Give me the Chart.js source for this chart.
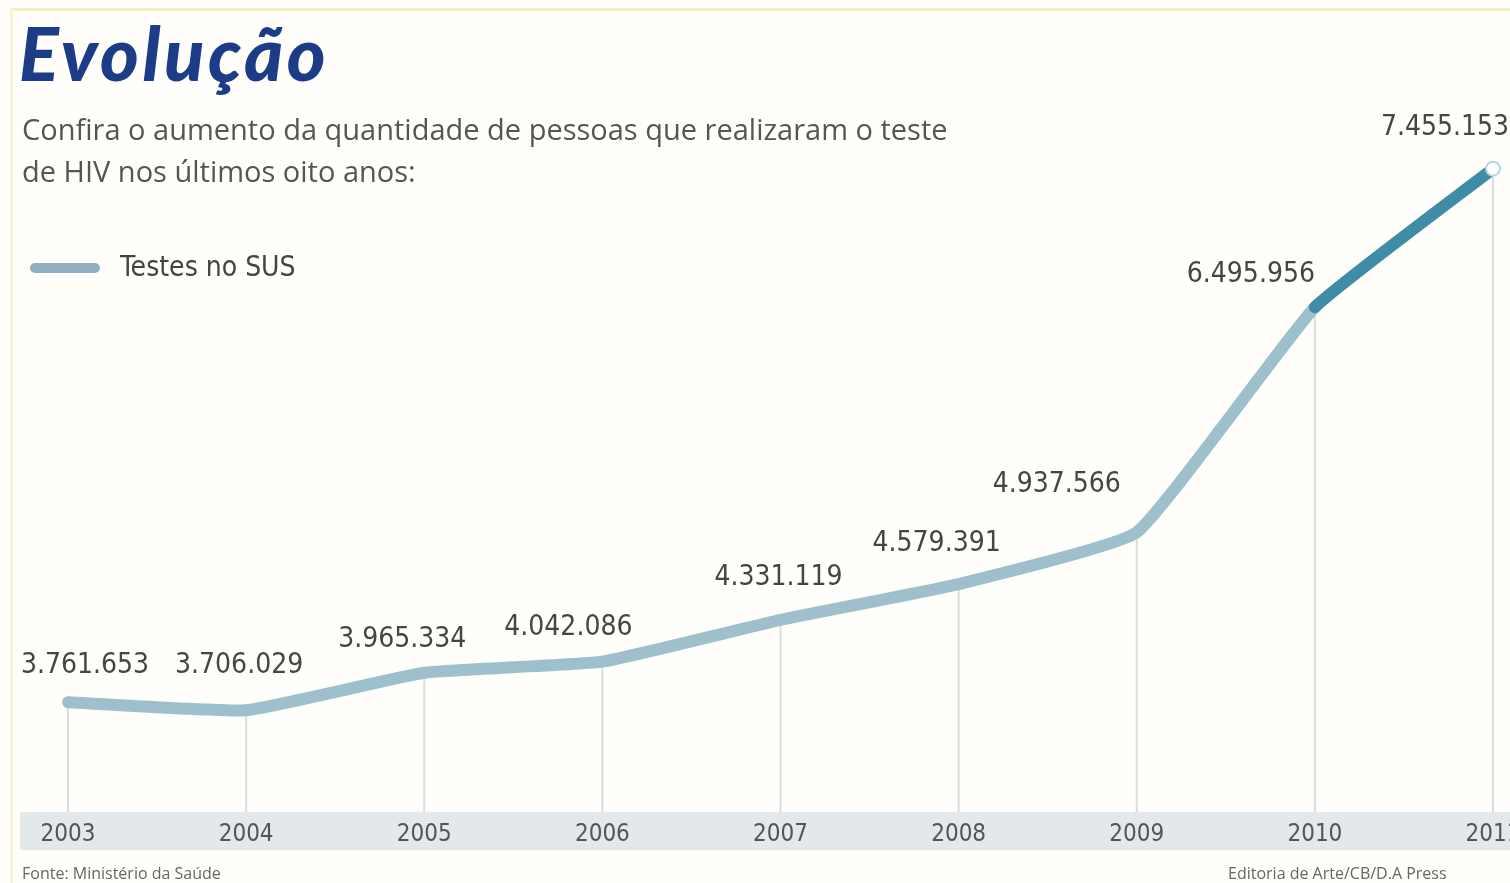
<!DOCTYPE html>
<html>
<head>
<meta charset="utf-8">
<title>Evolução</title>
<script src="https://cdn.jsdelivr.net/npm/chart.js@4"></script>
<style>
  body { margin: 0; background: #fffefa; }
  #wrap { position: relative; width: 1510px; height: 883px; overflow: hidden; }
  #wrap:before { content: ''; position: absolute; left: 10px; top: 8px; right: 0; height: 3px; background: #f2eec4; }
  #wrap:after { content: ''; position: absolute; left: 10px; top: 8px; bottom: 0; width: 3px; background: #f6f2d6; }
  canvas { position: absolute; left: 0; top: 0; }
  .title { position: absolute; left: 19px; top: 8px; font: italic 900 74px 'Lato', sans-serif; color: #1d3c88; letter-spacing: 3.5px; }
  .sub { position: absolute; left: 22px; top: 108px; font: 29px 'Open Sans', sans-serif; color: #555; line-height: 42px; }
  .legend { position: absolute; left: 30px; top: 250px; font: 28px 'Liberation Sans Narrow', 'DejaVu Sans Condensed', sans-serif; color: #444; }
  .legend i { display: inline-block; width: 70px; height: 10px; border-radius: 5px; background: #8fb1bd; vertical-align: middle; margin-right: 20px; }
  .src { position: absolute; top: 862px; font: 16px 'Open Sans', sans-serif; color: #666; white-space: nowrap; }
</style>
</head>
<body>
<div id="wrap">
  <canvas id="chart" width="1510" height="883"></canvas>
  <div class="title">Evolução</div>
  <div class="sub">Confira o aumento da quantidade de pessoas que realizaram o teste<br>de HIV nos últimos oito anos:</div>
  <div class="legend"><i></i>Testes no SUS</div>
  <div class="src" style="left:22px">Fonte: Ministério da Saúde</div>
  <div class="src" style="left:1228px">Editoria de Arte/CB/D.A Press</div>
</div>
<script>
const years = ['2003', '2004', '2005', '2006', '2007', '2008', '2009', '2010', '2011'];
const tests = [3761653, 3706029, 3965334, 4042086, 4331119, 4579391, 4937566, 6495956, 7455153];

// where each value label sits relative to its point
const labelDx = [17, -7, -22, -34, -2, -22, -80, -64, -48];
const labelDy = [-36, -45, -33, -34, -42, -40, -48, -33, -41];

const fmt = v => v.toLocaleString('de-DE');

const bandAndDrops = {
    id: 'bandAndDrops',
    beforeDraw(chart) {
        // grey strip behind the year labels
        const { ctx, chartArea } = chart;
        ctx.save();
        ctx.fillStyle = '#e3e8ea';
        ctx.fillRect(20, chartArea.bottom, 1490, 38);
        ctx.restore();
    },
    beforeDatasetsDraw(chart) {
        const { ctx, chartArea } = chart;
        const meta = chart.getDatasetMeta(0);
        ctx.save();
        ctx.strokeStyle = '#dcdcdc';
        ctx.lineWidth = 2;
        meta.data.forEach(pt => {
            ctx.beginPath();
            ctx.moveTo(pt.x, pt.y);
            ctx.lineTo(pt.x, chartArea.bottom);
            ctx.stroke();
        });
        ctx.restore();
    },
    afterDatasetsDraw(chart) {
        const { ctx } = chart;
        const meta = chart.getDatasetMeta(0);
        ctx.save();
        ctx.font = '28px "Liberation Sans Narrow", "DejaVu Sans Condensed", sans-serif';
        ctx.fillStyle = '#454545';
        ctx.textAlign = 'center';
        ctx.textBaseline = 'middle';
        meta.data.forEach((pt, i) => {
            ctx.fillText(fmt(tests[i]), pt.x + labelDx[i], pt.y + labelDy[i]);
        });
        ctx.restore();
    }
};

const ctx = document.getElementById('chart').getContext('2d');
new Chart(ctx, {
    type: 'line',
    data: {
        labels: years,
        datasets: [{
            label: 'Testes no SUS',
            data: tests,
            borderColor: '#9dc0cc',
            borderWidth: 12,
            borderCapStyle: 'round',
            tension: 0.12,
            segment: {
                borderColor: c => c.p0DataIndex === 7 ? '#3f8ca6' : '#9dc0cc'
            },
            pointRadius: tests.map((v, i) => i === tests.length - 1 ? 7 : 0),
            pointBackgroundColor: '#ffffff',
            pointBorderColor: '#b9d6de',
            pointBorderWidth: 2
        }]
    },
    options: {
        responsive: false,
        animation: false,
        layout: { autoPadding: false, padding: { top: 90, left: 68, right: 17, bottom: 34 } },
        plugins: {
            legend: { display: false },
            tooltip: { enabled: false }
        },
        scales: {
            x: {
                offset: false,
                grid: { display: false },
                border: { display: false },
                afterFit(scale) {
                    // let the last year label run off the edge like the original
                    scale.paddingLeft = 0;
                    scale.paddingRight = 0;
                },
                ticks: {
                    padding: 0,
                    color: '#555',
                    font: { family: '"Liberation Sans Narrow", "DejaVu Sans Condensed", sans-serif', size: 24 }
                }
            },
            y: {
                display: false,
                min: 3000000,
                max: 8000000
            }
        }
    },
    plugins: [bandAndDrops]
});
</script>
</body>
</html>
